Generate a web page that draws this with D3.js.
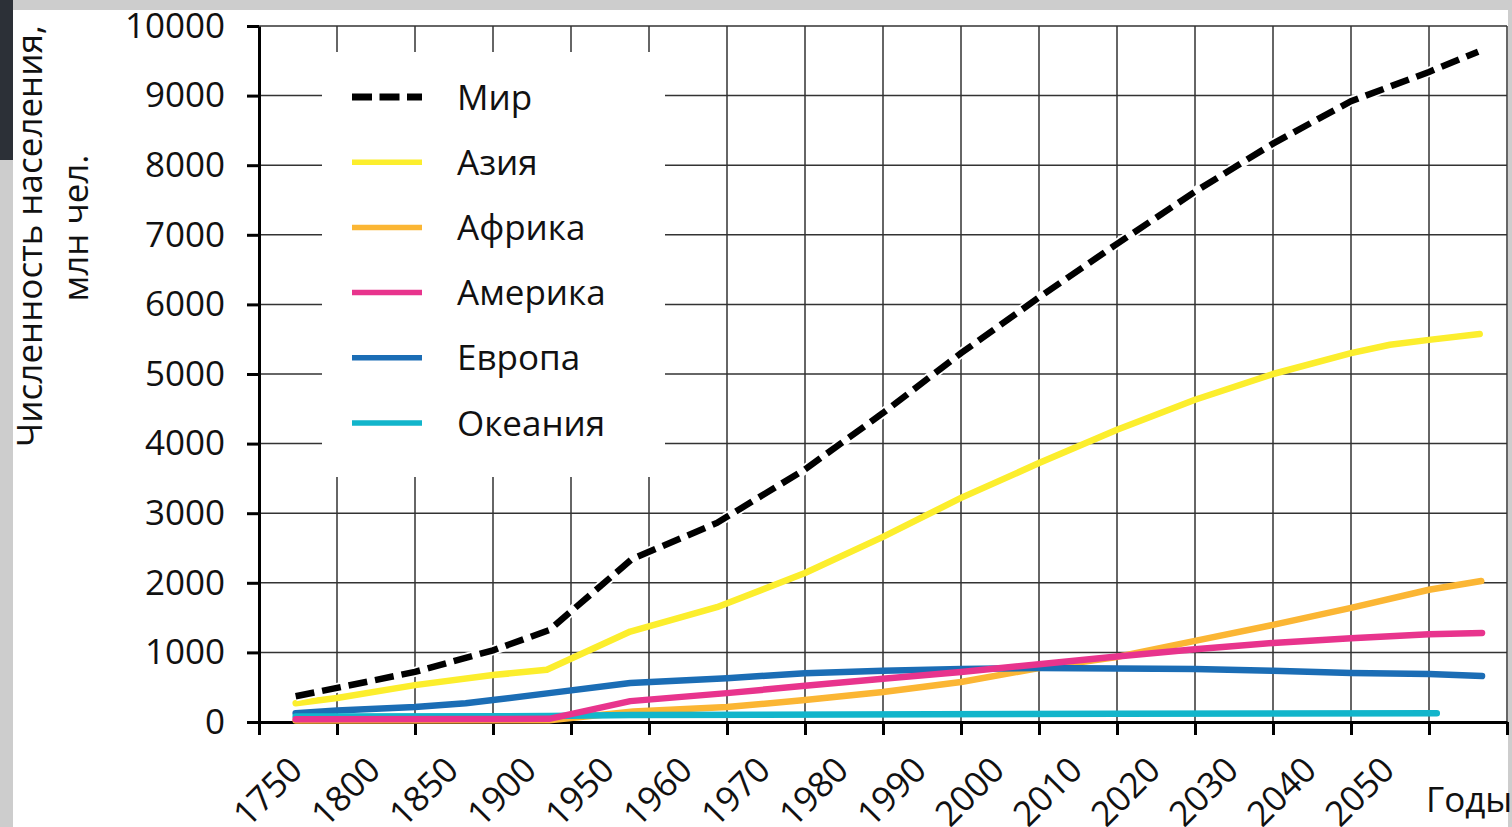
<!DOCTYPE html>
<html>
<head>
<meta charset="utf-8">
<script src="https://cdn.jsdelivr.net/npm/d3@7/dist/d3.min.js"></script>
<style>
    body { margin: 0; background: #fff; }
    svg text { font-family: "Open Sans", "Noto Sans", sans-serif; fill: #111; }
</style>
</head>
<body>
<svg id="chart" width="1512" height="827"></svg>
<script>
// x values are slot positions on the 16-column grid (tick lines sit on whole numbers)
const xLabels = ["1750", "1800", "1850", "1900", "1950", "1960", "1970", "1980", "1990",
    "2000", "2010", "2020", "2030", "2040", "2050"];
const yTicks = [0, 1000, 2000, 3000, 4000, 5000, 6000, 7000, 8000, 9000, 10000];

const world = [[0.47, 370], [1, 490], [2, 720], [3, 1030], [3.72, 1320], [4.78, 2340], [5.87, 2860],
    [7, 3630], [8, 4440], [9, 5300], [10, 6100], [11, 6870], [12, 7620], [13, 8310], [14, 8920],
    [15, 9340], [15.63, 9630]];
const asia = [[0.47, 270], [1, 345], [2, 530], [3, 675], [3.69, 750], [4.76, 1300], [5.87, 1650],
    [7, 2140], [8, 2660], [9, 3220], [10, 3720], [11, 4200], [12, 4630], [13, 5000], [14, 5300],
    [14.5, 5420], [15, 5490], [15.65, 5575]];
const africa = [[0.47, 20], [3.72, 25], [4.8, 150], [6, 215], [7, 315], [8, 430], [9, 575], [10, 775],
    [11, 935], [12, 1165], [13, 1395], [14, 1640], [15, 1900], [15.67, 2025]];
const america = [[0.47, 40], [3.72, 45], [4.76, 300], [6, 415], [7, 520], [8, 620], [9, 720],
    [10, 830], [11, 940], [12, 1045], [13, 1135], [14, 1205], [15, 1260], [15.68, 1280]];
const europe = [[0.47, 125], [1, 165], [2, 215], [2.65, 270], [3, 315], [3.72, 415], [4.76, 560],
    [6, 630], [7, 700], [8, 735], [9, 760], [10, 775], [11, 770], [12, 760], [13, 735],
    [14, 705], [15, 690], [15.68, 660]];
const oceania = [[0.47, 80], [3.72, 85], [4.76, 100], [11, 120], [15.1, 125]];

const legendNames = ["Мир", "Азия", "Африка", "Америка", "Европа", "Океания"];

const colors = {
    "Мир": "#000",
    "Азия": "#fcee2d",
    "Африка": "#fbb634",
    "Америка": "#e8348d",
    "Европа": "#1b6db5",
    "Океания": "#12b5cb"
};

const svg = d3.select("#chart");

// slide frame round the picture
svg.append("rect").attr("width", 1512).attr("height", 827).attr("fill", "#cdcdcd");
svg.append("rect").attr("width", 13).attr("height", 160).attr("fill", "#2c3037");
svg.append("rect").attr("x", 13).attr("y", 10).attr("width", 1495).attr("height", 817).attr("fill", "#fff");

const x = d3.scaleLinear().domain([0, 16]).range([259, 1507]);
const y = d3.scaleLinear().domain([0, 10000]).range([722, 26]);

// grid
const grid = svg.append("g").attr("stroke", "#333").attr("stroke-width", 1.5);
grid.selectAll("line.v").data(d3.range(1, 17)).join("line")
    .attr("class", "v")
    .attr("x1", d => x(d)).attr("x2", d => x(d))
    .attr("y1", y(10000)).attr("y2", y(0));
grid.selectAll("line.h").data(yTicks.slice(1)).join("line")
    .attr("class", "h")
    .attr("x1", x(0)).attr("x2", x(16))
    .attr("y1", d => y(d)).attr("y2", d => y(d));

// legend background hides the grid behind it
svg.append("rect")
    .attr("x", 322).attr("y", 52).attr("width", 343).attr("height", 425)
    .attr("fill", "#fff");

// axes
const yAxis = svg.append("g")
    .attr("transform", `translate(${x(0)},0)`)
    .call(d3.axisLeft(y).tickValues(yTicks).tickFormat(d3.format("d"))
        .tickSize(12).tickSizeOuter(0).tickPadding(22));

const xAxis = svg.append("g")
    .attr("transform", `translate(0,${y(0)})`)
    .call(d3.axisBottom(x).tickValues(d3.range(17)).tickSize(13).tickSizeOuter(0).tickFormat(""));

const xLabelAxis = svg.append("g")
    .attr("transform", `translate(0,${y(0)})`)
    .call(d3.axisBottom(x)
        .tickValues(xLabels.map((d, i) => i + 0.5))
        .tickFormat((d, i) => xLabels[i])
        .tickSize(0));
xLabelAxis.select(".domain").remove();
xLabelAxis.selectAll("text")
    .attr("y", 0).attr("dy", 0)
    .attr("text-anchor", "end")
    .attr("transform", "translate(6,50) rotate(-45)");

[yAxis, xAxis].forEach(a => {
    a.select(".domain").attr("stroke", "#000").attr("stroke-width", 3);
    a.selectAll(".tick line").attr("stroke", "#000").attr("stroke-width", 3);
});
svg.selectAll(".tick text")
    .attr("font-family", "Open Sans")
    .attr("font-size", 35)
    .attr("fill", "#111");

// series
const line = d3.line().x(d => x(d[0])).y(d => y(d[1]));
const series = [
    {name: "Африка", values: africa},
    {name: "Европа", values: europe},
    {name: "Океания", values: oceania},
    {name: "Америка", values: america},
    {name: "Азия", values: asia}
];

const lines = svg.append("g").attr("fill", "none");
lines.selectAll("path").data(series).join("path")
    .attr("d", d => line(d.values))
    .attr("stroke", d => colors[d.name])
    .attr("stroke-width", 6.5)
    .attr("stroke-linecap", "round")
    .attr("stroke-linejoin", "round");

lines.append("path")
    .attr("d", line(world))
    .attr("stroke", "#fff")
    .attr("stroke-width", 10);
lines.append("path")
    .attr("d", line(world))
    .attr("stroke", colors["Мир"])
    .attr("stroke-width", 6.5)
    .attr("stroke-dasharray", "19,8");

// legend
const legend = svg.append("g");
const item = legend.selectAll("g").data(legendNames).join("g")
    .attr("transform", (d, i) => `translate(352,${97 + i * 65.2})`);
item.append("line")
    .attr("x1", 0).attr("x2", 70)
    .attr("stroke", d => colors[d])
    .attr("stroke-width", d => d === "Мир" ? 7 : 5.5)
    .attr("stroke-dasharray", d => d === "Мир" ? "20,7.5" : null);
item.append("text")
    .attr("x", 105).attr("dy", "0.36em")
    .attr("font-size", 35)
    .text(d => d);

// axis titles
svg.append("text")
    .attr("transform", "translate(42,236) rotate(-90)")
    .attr("text-anchor", "middle")
    .attr("font-size", 35)
    .text("Численность населения,");
svg.append("text")
    .attr("transform", "translate(88,228) rotate(-90)")
    .attr("text-anchor", "middle")
    .attr("font-size", 35)
    .text("млн чел.");
svg.append("text")
    .attr("x", 1426).attr("y", 812)
    .attr("font-size", 35)
    .text("Годы");
</script>
</body>
</html>
